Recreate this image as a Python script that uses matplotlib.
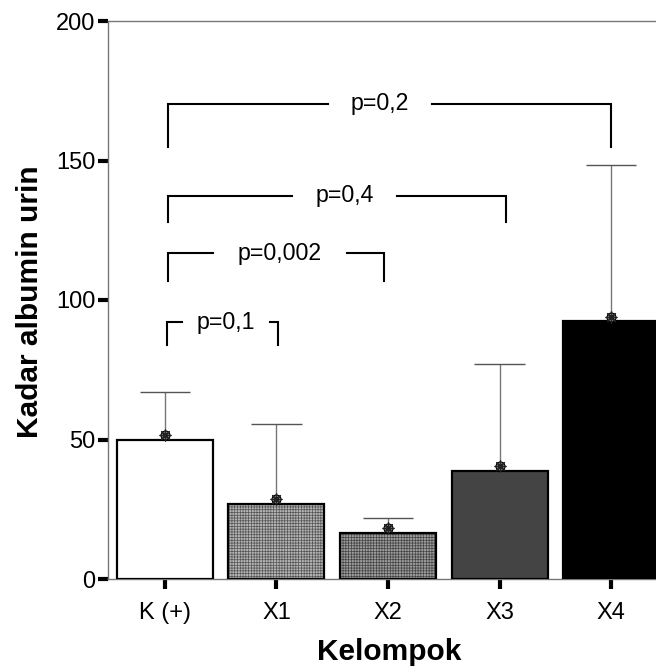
import numpy as np
import matplotlib
matplotlib.use("Agg")
import matplotlib.pyplot as plt
import matplotlib.transforms as mtransforms

plt.rcParams['font.family'] = ['Liberation Sans', 'DejaVu Sans']
plt.rcParams['hatch.linewidth'] = 0.5

# ==========================================
# DATA
# ==========================================
groups = ["K (+)", "X1", "X2", "X3", "X4"]
means = [50, 27, 16.5, 38.8, 92.3]
upper = [67, 55.5, 21.8, 77, 148.5]
face_colors = ["white", "#b4b4b4", "#9c9c9c", "#444444", "black"]
hatch_colors = [None, "#555555", "#444444", None, None]

# brackets: left, right, top, bottom, gap start, gap end, label
br_left = [0.02, 0.03, 0.03, 0.03]
br_right = [1.01, 1.96, 3.06, 4.0]
br_top = [92.1, 116.8, 137.3, 170.3]
br_bottom = [83.9, 106.8, 128.0, 154.8]
br_gap_a = [0.15, 0.43, 1.14, 1.46]
br_gap_b = [0.94, 1.63, 2.08, 2.39]
br_labels = ["p=0,1", "p=0,002", "p=0,4", "p=0,2"]

# ==========================================
# FIGURE
# ==========================================
fig = plt.figure(figsize=(6.56, 6.66), dpi=100)
ax = fig.add_axes([108 / 656, 87 / 666, 560 / 656, 558 / 666])

x = np.arange(len(groups))
width = 0.86

# hatched fill first, outline on top
for i in range(len(groups)):
    if hatch_colors[i] is not None:
        ax.bar(x[i], means[i], width, color=face_colors[i], edgecolor=hatch_colors[i],
               hatch="++++++", linewidth=0, zorder=2)
    else:
        ax.bar(x[i], means[i], width, color=face_colors[i], linewidth=0, zorder=2)
ax.bar(x, means, width, fill=False, edgecolor="black", linewidth=1.6, zorder=3)

# error bars (upper only)
ax.vlines(x, means, upper, color="#777777", linewidth=1.0, zorder=1)
ax.hlines(upper, x - 0.225, x + 0.225, color="#555555", linewidth=1.0, zorder=1)

# mean markers, sitting a bit above the bar top
shift = mtransforms.offset_copy(ax.transData, fig=fig, x=0, y=3.5, units="points")
ax.plot(x, means, "o", ms=6.5, mfc="#8c8c8c", mec="black", mew=0.8, transform=shift, zorder=4)
ax.plot(x, means, marker=(8, 2, 0), ls="none", ms=8.5, mec="#222222", mew=0.9,
        transform=shift, zorder=5)

# significance brackets
for i in range(len(br_labels)):
    ax.plot([br_left[i], br_left[i], br_gap_a[i]], [br_bottom[i], br_top[i], br_top[i]],
            color="black", lw=1.5, solid_joinstyle="miter", zorder=3)
    ax.plot([br_gap_b[i], br_right[i], br_right[i]], [br_top[i], br_top[i], br_bottom[i]],
            color="black", lw=1.5, solid_joinstyle="miter", zorder=3)
    ax.text((br_gap_a[i] + br_gap_b[i]) / 2, br_top[i], br_labels[i],
            ha="center", va="center", fontsize=16.7)

ax.set_xlim(-0.51, 4.51)
ax.set_ylim(0, 200)
ax.set_xticks(x)
ax.set_xticklabels(groups)
ax.set_yticks([0, 50, 100, 150, 200])

for side in ["left", "bottom", "top", "right"]:
    ax.spines[side].set_color("#777777")
    ax.spines[side].set_linewidth(1.0)

ax.tick_params(axis="both", direction="out", length=7.5, width=3, color="black",
               labelsize=17)
ax.tick_params(axis="x", pad=9)
ax.tick_params(axis="y", pad=1.5)

fig.text(30 / 656, 1 - 302 / 666, "Kadar albumin urin", rotation=90,
         ha="center", va="center", fontsize=21.5, fontweight="bold")
fig.text(389 / 656, 1 - 652 / 666, "Kelompok", ha="center", va="center",
         fontsize=21.5, fontweight="bold")

fig.savefig("out.png", dpi=100)
